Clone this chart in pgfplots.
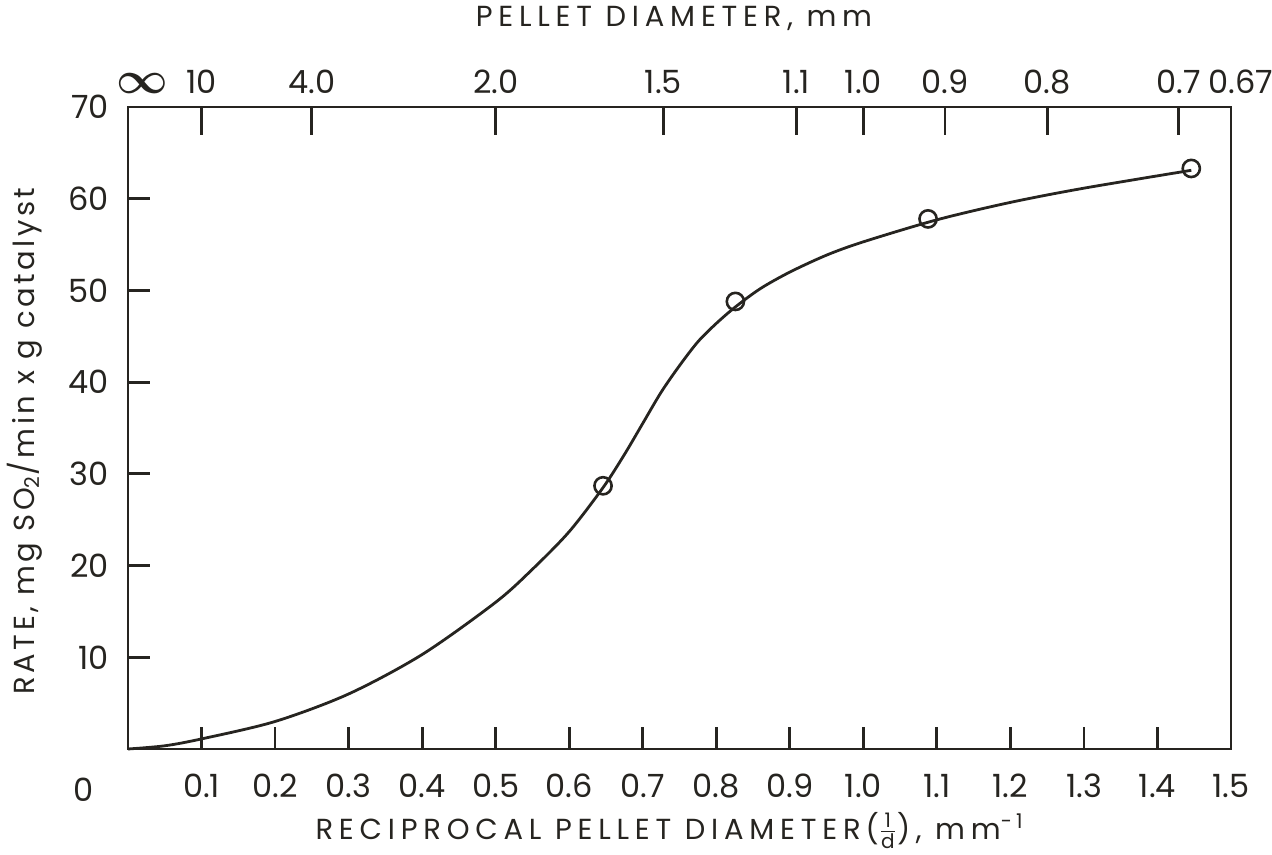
\documentclass[border=0pt]{standalone}
\usepackage{pgfplots}
\pgfplotsset{compat=1.18}
\usepackage{graphicx}
\usepackage{fontspec}
\setmainfont{Poppins}
\newfontfamily\spaced{Poppins}[LetterSpace=20]
\newfontfamily\yspaced{Poppins}[LetterSpace=12]
\definecolor{ink}{RGB}{38,36,32}
\pgfplotstableread{
x y
0.000 0.0
0.050 0.35
0.100 1.1
0.200 3.0
0.300 6.0
0.400 10.3
0.500 16.0
0.550 19.6
0.600 23.7
0.646 28.5
0.675 32.1
0.700 35.5
0.725 38.9
0.750 41.8
0.775 44.4
0.800 46.4
0.826 48.2
0.860 50.2
0.900 52.0
0.950 53.85
1.000 55.3
1.100 57.7
1.200 59.6
1.300 61.15
1.446 63.1
}\curvedata
\pgfplotstableread{
x y
0.646 28.7
0.826 48.8
1.088 57.8
1.446 63.3
}\pointdata
\begin{document}
\begin{tikzpicture}
\useasboundingbox (-64pt,-53pt) rectangle (572pt,374.5pt);
\begin{axis}[
  at={(0,0)}, anchor=south west,
  scale only axis, width=551.5pt, height=321pt,
  xmin=0, xmax=1.5, ymin=0, ymax=70,
  clip=false,
  axis line style={line width=1.4pt, color=ink},
  tick style={line width=1.4pt, color=ink},
  tick align=inside, major tick length=11pt,
  xtick pos=lower, ytick pos=left,
  xtick={0.1,0.2,0.3,0.4,0.5,0.6,0.7,0.8,0.9,1.0,1.1,1.2,1.3,1.4,1.5},
  xticklabels={0.1,0.2,0.3,0.4,0.5,0.6,0.7,0.8,0.9,1.0,1.1,1.2,1.3,1.4,1.5},
  ytick={10,20,30,40,50,60,70},
  yticklabels={10,20,30,40,50,60,70},
  tick label style={font=\fontsize{16}{19}\selectfont, text=ink},
  xticklabel style={yshift=-9pt},
  yticklabel style={xshift=-6pt},
  xlabel={{\spaced RECIPROCAL PELLET DIAMETER\,(\ensuremath{\frac{\mbox{\fontsize{10}{10}\selectfont 1}}{\mbox{\fontsize{10}{10}\selectfont d}}}),\ mm\textsuperscript{-1}}},
  xlabel style={at={(axis description cs:0.491,-0.127)}, anchor=center, font=\fontsize{14.5}{17}\selectfont, text=ink},
  ylabel={{\yspaced RATE,\ mg SO\textsubscript{2}/min x g catalyst}},
  ylabel style={at={(axis description cs:-0.0934,0.48)}, anchor=center, font=\fontsize{14.5}{17}\selectfont, text=ink},
]
\addplot[smooth, line width=1.4pt, color=ink] table {\curvedata};
\addplot[only marks, mark=o, mark size=4.3pt, mark options={line width=1.3pt, fill=white, draw=ink}] table {\pointdata};
\node[font=\fontsize{16}{19}\selectfont, text=ink] at (axis cs:0,0) [xshift=-22pt, yshift=-20.5pt] {0};
\end{axis}
\begin{axis}[
  at={(0,0)}, anchor=south west,
  scale only axis, width=551.5pt, height=321pt,
  xmin=0, xmax=1.5, ymin=0, ymax=70,
  axis line style={draw=none},
  ytick=\empty,
  xtick pos=upper, xticklabel pos=upper,
  tick align=inside, major tick length=14pt,
  tick style={line width=1.4pt, color=ink},
  xtick={0,0.1,0.25,0.5,0.728,0.909,1.0,1.111,1.25,1.4286,1.5},
  xticklabels={\hspace{14pt}\scalebox{1.3}[1.3]{\boldmath$\infty$},10,4.0,2.0,1.5,1.1,1.0,0.9,0.8,0.7\hspace{6pt},\hspace{10pt}0.67},
  tick label style={font=\fontsize{16}{19}\selectfont, text=ink},
  xticklabel style={yshift=3pt},
  title={{\spaced PELLET DIAMETER,\ mm}},
  title style={at={(axis description cs:0.495,1.12)}, anchor=center, font=\fontsize{14.5}{17}\selectfont, text=ink},
]
\end{axis}
\end{tikzpicture}
\end{document}
